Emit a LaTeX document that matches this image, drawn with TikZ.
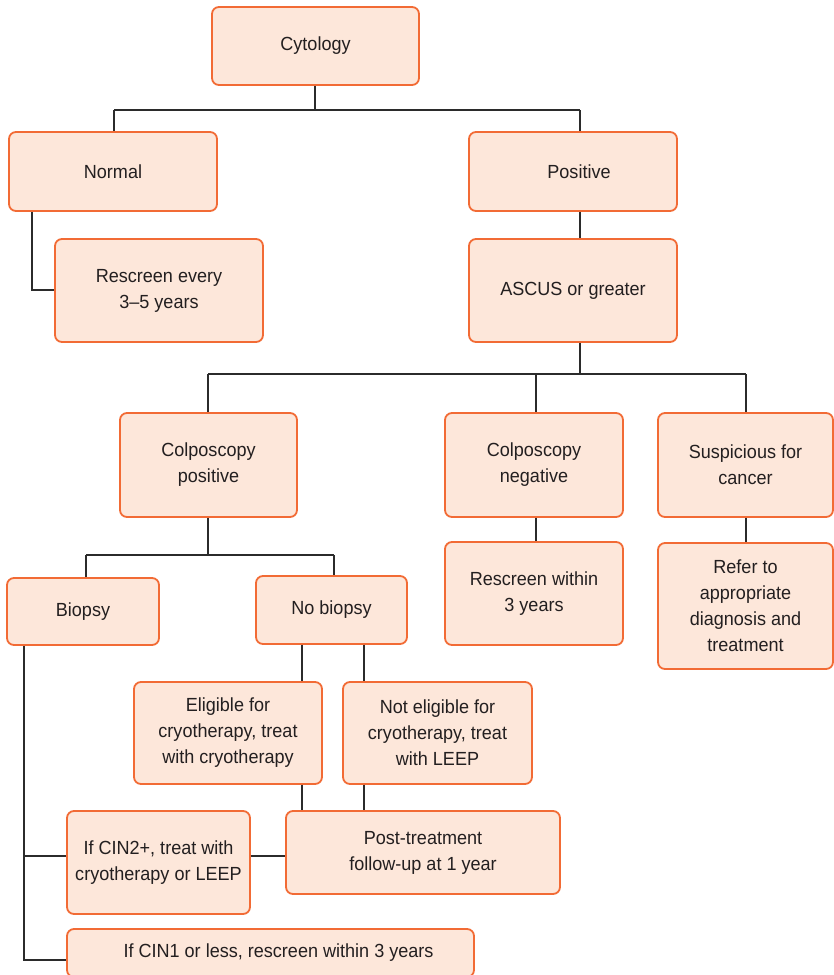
\documentclass[tikz,border=0pt]{standalone}
\usepackage{fontspec}
\setmainfont[FakeStretch=0.95]{Liberation Sans}
\definecolor{boxfill}{HTML}{FDE7DA}
\definecolor{boxline}{HTML}{F26B35}
\definecolor{txt}{HTML}{231F20}
\definecolor{conn}{HTML}{2B2B2B}
\tikzset{
  fbox/.style={rectangle, rounded corners=7pt, draw=boxline, fill=boxfill,
    line width=1.8pt, inner sep=0pt, align=center, text=txt,
    font=\fontsize{19}{26}\selectfont},
  link/.style={draw=conn, line width=1.8pt}
}
\begin{document}
\begin{tikzpicture}[x=1pt,y=-1pt]
\useasboundingbox (0,0) rectangle (834,975);
\fill[white] (0,0) rectangle (834,975);
% boxes
\node[fbox, minimum width=207pt, minimum height=78pt] (cyt) at (315.5,46) {Cytology};
\node[fbox, minimum width=208pt, minimum height=79pt] (normal) at (113,171.5) {Normal};
\node[fbox, minimum width=208pt, minimum height=79pt] (positive) at (573,171.5) {\hspace*{12pt}Positive};
\node[fbox, minimum width=208pt, minimum height=103pt] (resc1) at (159,290.5) {Rescreen every\\3–5 years};
\node[fbox, minimum width=208pt, minimum height=103pt] (ascus) at (573,290.5) {ASCUS or greater};
\node[fbox, minimum width=177pt, minimum height=104pt] (colppos) at (208.5,465) {Colposcopy\\positive};
\node[fbox, minimum width=178pt, minimum height=104pt] (colpneg) at (534,465) {Colposcopy\\negative};
\node[fbox, minimum width=175pt, minimum height=104pt] (susp) at (745.5,465) {Suspicious for\\cancer};
\node[fbox, minimum width=152pt, minimum height=67pt] (biopsy) at (83,611.5) {Biopsy};
\node[fbox, minimum width=151pt, minimum height=68pt] (nobiopsy) at (331.5,610) {No biopsy};
\node[fbox, minimum width=178pt, minimum height=103pt] (resc3) at (534,593.5) {Rescreen within\\3 years};
\node[fbox, minimum width=175pt, minimum height=126pt] (refer) at (745.5,606) {Refer to\\appropriate\\diagnosis and\\treatment};
\node[fbox, minimum width=188pt, minimum height=102pt] (elig) at (228,733) {Eligible for\\cryotherapy, treat\\with cryotherapy};
\node[fbox, minimum width=189pt, minimum height=102pt] (nelig) at (437.5,733) {Not eligible for\\cryotherapy, treat\\with LEEP};
\node[fbox, minimum width=183pt, minimum height=103pt] (cin2) at (158.5,862.5) {If CIN2+, treat with\\cryotherapy or LEEP};
\node[fbox, minimum width=274pt, minimum height=83pt] (post) at (423,852.5) {Post-treatment\\follow-up at 1 year};
\node[fbox, minimum width=407pt, minimum height=48pt] (cin1) at (270.5,953) {\hspace*{16pt}If CIN1 or less, rescreen within 3 years};
% junction coordinates
\coordinate (j1) at (315,110);
\coordinate (j1l) at (114,110);
\coordinate (j1r) at (580,110);
\coordinate (j2) at (580,374);
\coordinate (j2l) at (208,374);
\coordinate (j2m) at (536,374);
\coordinate (j2r) at (746,374);
\coordinate (j3) at (208,555);
\coordinate (j3l) at (86,555);
\coordinate (j3r) at (334,555);
\coordinate (jn) at (32,290);
\coordinate (jb1) at (24,856);
\coordinate (jb2) at (24,960);
% connectors
\draw[link] (j1 |- cyt.south) -- (j1);
\draw[link] (j1l) -- (j1r);
\draw[link] (j1l) -- (j1l |- normal.north);
\draw[link] (j1r) -- (j1r |- positive.north);
\draw[link] (jn |- normal.south) -- (jn) -- (jn -| resc1.west);
\draw[link] (j2 |- positive.south) -- (j2 |- ascus.north);
\draw[link] (j2 |- ascus.south) -- (j2);
\draw[link] (j2l) -- (j2r);
\draw[link] (j2l) -- (j2l |- colppos.north);
\draw[link] (j2m) -- (j2m |- colpneg.north);
\draw[link] (j2r) -- (j2r |- susp.north);
\draw[link] (j3 |- colppos.south) -- (j3);
\draw[link] (j3l) -- (j3r);
\draw[link] (j3l) -- (j3l |- biopsy.north);
\draw[link] (j3r) -- (j3r |- nobiopsy.north);
\draw[link] (j2m |- colpneg.south) -- (j2m |- resc3.north);
\draw[link] (j2r |- susp.south) -- (j2r |- refer.north);
\draw[link] (302,0 |- nobiopsy.south) -- (302,0 |- elig.north);
\draw[link] (364,0 |- nobiopsy.south) -- (364,0 |- nelig.north);
\draw[link] (302,0 |- elig.south) -- (302,0 |- post.north);
\draw[link] (364,0 |- nelig.south) -- (364,0 |- post.north);
\draw[link] (cin2.east |- jb1) -- (post.west |- jb1);
\draw[link] (jb1 |- biopsy.south) -- (jb2) -- (jb2 -| cin1.west);
\draw[link] (jb1) -- (jb1 -| cin2.west);
\end{tikzpicture}
\end{document}
